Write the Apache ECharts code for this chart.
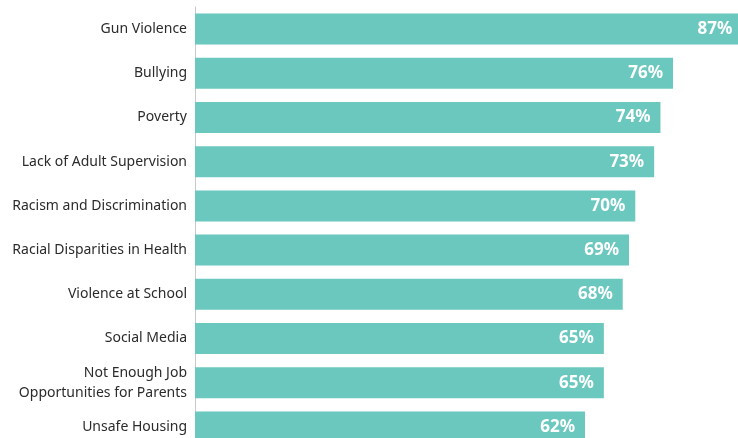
<!DOCTYPE html>
<html>
<head>
<meta charset="utf-8">
<script src="https://cdn.jsdelivr.net/npm/echarts@6/dist/echarts.min.js"></script>
<style>
html,body{margin:0;padding:0;overflow:hidden;background:#fff;width:738px;height:438px;}
#c{width:830px;height:460px;}
</style>
</head>
<body>
<div id="c"></div>
<script>
const categories = ["Gun Violence","Bullying","Poverty","Lack of Adult Supervision","Racism and Discrimination","Racial Disparities in Health","Violence at School","Social Media","Not Enough Job\nOpportunities for Parents","Unsafe Housing"];
const values = [87,76,74,73,70,69,68,65,65,62];

const chart = echarts.init(document.getElementById('c'));
chart.setOption({
  animation:false,
  grid:{left:195,width:629,top:7,height:442},
  xAxis:{type:'value',min:0,max:100,show:false},
  yAxis:{type:'category',data:categories,inverse:true,
    axisLine:{show:true,lineStyle:{color:'#c8c8c8',width:1}},
    axisTick:{show:false},
    axisLabel:{color:'#2b2b2b',fontSize:14,fontFamily:'Noto Sans',margin:8,lineHeight:20}},
  series:[{type:'bar',data:values,barWidth:31,
    itemStyle:{color:'#6ac8bf'},
    label:{show:true,position:'insideRight',distance:10,formatter:'{c}%',color:'#fff',fontSize:17,fontWeight:'bold',fontFamily:'Noto Sans'}}]
});
</script>
</body>
</html>
